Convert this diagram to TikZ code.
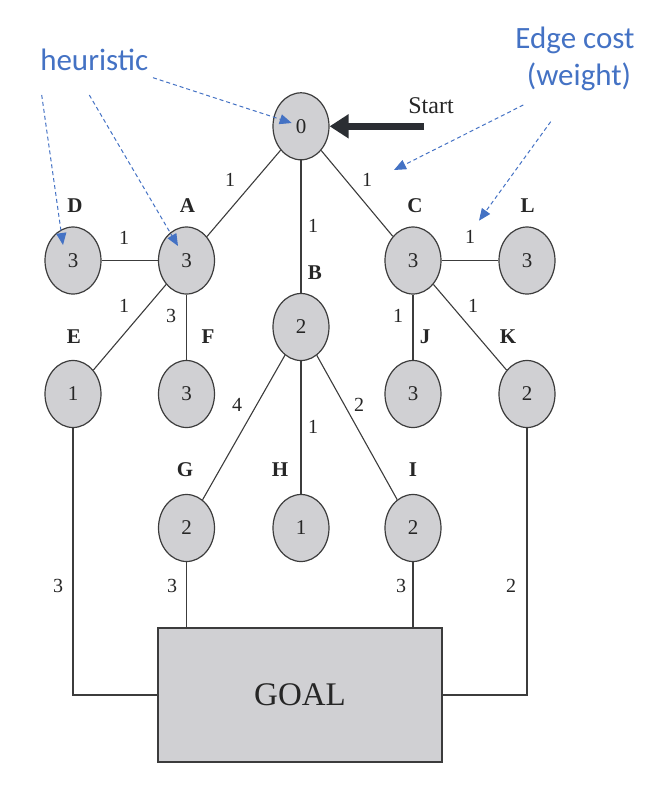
\documentclass[tikz,border=0pt]{standalone}
\usepackage{fontspec}
\setmainfont{Liberation Serif}
\newfontfamily\calib{Carlito}
\usetikzlibrary{shapes.geometric,arrows.meta}
\definecolor{nodefill}{HTML}{D0D0D3}
\definecolor{edgecol}{HTML}{3C3C3C}
\definecolor{notecol}{HTML}{4472C4}
\definecolor{startcol}{HTML}{2B2E33}
\definecolor{txtcol}{HTML}{262626}
\tikzset{
  hnode/.style={ellipse, draw=edgecol, fill=nodefill, line width=1.2pt,
    minimum width=56pt, minimum height=67pt, inner sep=0pt,
    text=txtcol, font=\fontsize{21}{25}\selectfont},
  namelbl/.style={inner sep=0pt, text=txtcol, font=\fontsize{21}{25}\selectfont\bfseries},
  wlbl/.style={inner sep=0pt, text=txtcol, font=\fontsize{20}{24}\selectfont},
  edge/.style={draw=edgecol, line width=1.1pt},
  note/.style={inner sep=0pt, text=notecol, font=\calib\fontsize{31}{37}\selectfont},
  notearrow/.style={draw=notecol, line width=1pt, dash pattern=on 4pt off 3pt,
    -{Triangle[length=12pt,width=10pt]}},
  goalbox/.style={rectangle, draw=edgecol, fill=nodefill, line width=1.2pt,
    minimum width=284pt, minimum height=134pt, inner sep=0pt,
    text=txtcol, font=\fontsize{33}{38}\selectfont}
}
\begin{document}
\begin{tikzpicture}[x=1pt,y=-1pt]
\useasboundingbox (0,0) rectangle (656,785);
% nodes
\node[hnode] (S) at (301,126.3) {0};
\node[hnode] (D) at (73,260.5) {3};
\node[hnode] (A) at (186.5,260.5) {3};
\node[hnode] (C) at (413,260.5) {3};
\node[hnode] (L) at (527,260.5) {3};
\node[hnode] (B) at (301,327) {2};
\node[hnode] (E) at (73,394) {1};
\node[hnode] (F) at (186.5,394) {3};
\node[hnode] (J) at (413,394) {3};
\node[hnode] (K) at (527,394) {2};
\node[hnode] (G) at (186.5,528) {2};
\node[hnode] (H) at (301,528) {1};
\node[hnode] (I) at (413,528) {2};
\node[goalbox] (goal) at (300,695) {GOAL};
% name labels
\node[namelbl] (lD) at (75,206) {D};
\node[namelbl] (lA) at (187.5,206) {A};
\node[namelbl] (lC) at (415,206) {C};
\node[namelbl] (lL) at (527.5,206) {L};
\node[namelbl] (lB) at (315,273) {B};
\node[namelbl] (lE) at (74,337) {E};
\node[namelbl] (lF) at (208,337) {F};
\node[namelbl] (lJ) at (425,337) {J};
\node[namelbl] (lK) at (508,337) {K};
\node[namelbl] (lG) at (185,470) {G};
\node[namelbl] (lH) at (280,470) {H};
\node[namelbl] (lI) at (413,470) {I};
% edges
\draw[edge] (S) -- (A);
\draw[edge] (S) -- (B);
\draw[edge] (S) -- (C);
\draw[edge] (D) -- (A);
\draw[edge] (A) -- (E);
\draw[edge] (A) -- (F);
\draw[edge] (C) -- (L);
\draw[edge] (C) -- (J);
\draw[edge] (C) -- (K);
\draw[edge] (B) -- (G);
\draw[edge] (B) -- (H);
\draw[edge] (B) -- (I);
\draw[edge] (G) -- (G |- goal.north);
\draw[edge] (I) -- (I |- goal.north);
\draw[edge] (E) |- (goal.west);
\draw[edge] (K) |- (goal.east);
% weights
\node[wlbl] (wSA) at (230,180) {1};
\node[wlbl] (wSC) at (367,180) {1};
\node[wlbl] (wSB) at (313,226) {1};
\node[wlbl] (wDA) at (124,238) {1};
\node[wlbl] (wCL) at (470,237) {1};
\node[wlbl] (wAE) at (124,306) {1};
\node[wlbl] (wAF) at (171,316) {3};
\node[wlbl] (wCJ) at (398,316) {1};
\node[wlbl] (wCK) at (473,306) {1};
\node[wlbl] (wBG) at (237,405) {4};
\node[wlbl] (wBH) at (313,427) {1};
\node[wlbl] (wBI) at (359,405) {2};
\node[wlbl] (wEG) at (58,586) {3};
\node[wlbl] (wGG) at (172,586) {3};
\node[wlbl] (wIG) at (401,586) {3};
\node[wlbl] (wKG) at (511,586) {2};
% start arrow
\node[inner sep=0pt, anchor=base, text=txtcol, font=\fontsize{24}{28}\selectfont] (start) at (431,113.3) {Start};
\coordinate (starttail) at (424,126.3);
\draw[startcol, line width=6.5pt, -{Triangle[length=19pt,width=23pt]}] (starttail) -- (S.east);
% annotations
\node[note, anchor=base] (heur) at (94.3,70.7) {heuristic};
\node[note, anchor=base] (ec1) at (575,48.3) {Edge cost};
\node[note, anchor=base] (ec2) at (579,85) {(weight)};
\coordinate (h0) at (153,77.7);
\coordinate (h0t) at (291.7,123);
\coordinate (hD) at (41.7,95);
\coordinate (hDt) at (63,245);
\coordinate (hA) at (89.3,95);
\coordinate (hAt) at (178,246);
\coordinate (e1) at (523.3,105);
\coordinate (e1t) at (394,170);
\coordinate (e2) at (550.7,121.7);
\coordinate (e2t) at (479,220.7);
\draw[notearrow] (h0) -- (h0t);
\draw[notearrow] (hD) -- (hDt);
\draw[notearrow] (hA) -- (hAt);
\draw[notearrow] (e1) -- (e1t);
\draw[notearrow] (e2) -- (e2t);
\end{tikzpicture}
\end{document}
